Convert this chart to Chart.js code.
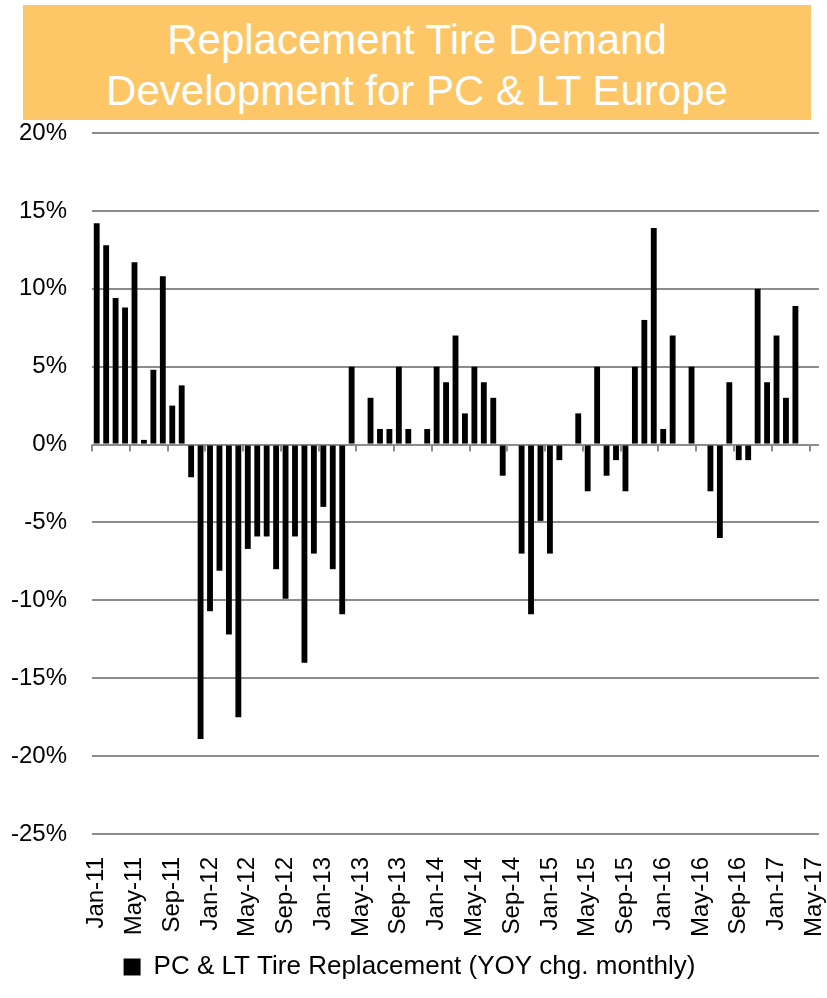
<!DOCTYPE html>
<html>
<head>
<meta charset="utf-8">
<script src="https://cdn.jsdelivr.net/npm/chart.js@4"></script>
<style>
    body { margin: 0; background: #fff; }
    .page { position: relative; width: 827px; height: 998px; }
    .titulo {
        position: absolute; left: 23px; top: 5px; width: 788px; height: 115px;
        box-sizing: border-box; padding-top: 9px;
        background: #FDC767; color: #fff; text-align: center;
        font-family: "Liberation Sans", Arial, sans-serif; font-size: 42px; line-height: 51px;
    }
    canvas { position: absolute; left: 0; top: 0; }
</style>
</head>
<body>
<div class="page">
    <canvas id="chart" width="827" height="998"></canvas>
    <div class="titulo">Replacement Tire Demand<br>Development for PC &amp; LT Europe</div>
</div>

<script>
const years = ['11', '12', '13', '14', '15', '16', '17'];
const monthNames = ['Jan', 'Feb', 'Mar', 'Apr', 'May', 'Jun', 'Jul', 'Aug', 'Sep', 'Oct', 'Nov', 'Dec'];

// Jan-11 ... May-17
const months = [];
years.forEach(y => monthNames.forEach(m => months.push(`${m}-${y}`)));
months.length = 77;

// YOY change, %
const values2011 = [14.2, 12.8, 9.4, 8.8, 11.7, 0.3, 4.8, 10.8, 2.5, 3.8, -2.1, -18.9];
const values2012 = [-10.7, -8.1, -12.2, -17.5, -6.7, -5.9, -5.9, -8.0, -9.9, -5.9, -14.0, -7.0];
const values2013 = [-4.0, -8.0, -10.9, 5.0, 0, 3.0, 1.0, 1.0, 5.0, 1.0, 0, 1.0];
const values2014 = [5.0, 4.0, 7.0, 2.0, 5.0, 4.0, 3.0, -2.0, 0, -7.0, -10.9, -4.9];
const values2015 = [-7.0, -1.0, 0, 2.0, -3.0, 5.0, -2.0, -1.0, -3.0, 5.0, 8.0, 13.9];
const values2016 = [1.0, 7.0, 0, 5.0, 0, -3.0, -6.0, 4.0, -1.0, -1.0, 10.0, 4.0];
const values2017 = [7.0, 3.0, 8.9, 0, 0];

const yTicks = [20, 15, 10, 5, 0, -5, -10, -15, -20, -25];

const seriesLabel = 'PC & LT Tire Replacement (YOY chg. monthly)';
const fuente = '"Liberation Sans", Arial, sans-serif';
const gris = '#8c8c8c';

const valores = [].concat(values2011, values2012, values2013, values2014, values2015, values2016, values2017);

// small tick marks hanging from the 0% line, every 4 months
const zeroTicks = {
    id: 'zeroTicks',
    afterDatasetsDraw(chart) {
        const x = chart.scales.x;
        const y = chart.scales.y;
        const ctx = chart.ctx;
        const half = x.width / months.length / 2;
        const y0 = y.getPixelForValue(0);
        ctx.save();
        ctx.strokeStyle = gris;
        ctx.lineWidth = 2;
        for (let i = 0; i < months.length; i += 4) {
            const px = Math.round(x.getPixelForValue(i) - half);
            ctx.beginPath();
            ctx.moveTo(px, y0);
            ctx.lineTo(px, y0 + 7);
            ctx.stroke();
        }
        ctx.restore();
    }
};

new Chart(document.getElementById('chart'), {
    type: 'bar',
    data: {
        labels: months,
        datasets: [{
            label: seriesLabel,
            data: valores,
            backgroundColor: '#000',
            borderWidth: 0,
            barPercentage: 0.62,
            categoryPercentage: 1
        }]
    },
    options: {
        responsive: false,
        animation: false,
        layout: { padding: { top: 133, right: 8, left: 0, bottom: 8 } },
        plugins: {
            tooltip: { enabled: false },
            legend: {
                position: 'bottom',
                labels: {
                    color: '#000',
                    font: { family: fuente, size: 26 },
                    boxWidth: 17,
                    boxHeight: 17,
                    padding: 10
                }
            }
        },
        scales: {
            x: {
                grid: { display: false, drawTicks: false },
                border: { display: false },
                ticks: {
                    autoSkip: false,
                    minRotation: 90,
                    maxRotation: 90,
                    padding: 23,
                    color: '#000',
                    font: { family: fuente, size: 24 },
                    callback: (v, i) => i % 4 === 0 ? months[i] : ''
                },
                afterFit: scale => {
                    scale.height = 110;
                    scale.paddingLeft = 0;
                    scale.paddingRight = 0;
                }
            },
            y: {
                min: -25,
                max: 20,
                afterBuildTicks: scale => { scale.ticks = yTicks.map(v => ({ value: v })); },
                grid: { color: gris, lineWidth: 2, drawTicks: false },
                border: { display: false },
                ticks: {
                    padding: 25,
                    color: '#000',
                    font: { family: fuente, size: 24 },
                    callback: v => v + '%'
                },
                afterFit: scale => { scale.width = 92; }
            }
        }
    },
    plugins: [zeroTicks]
});
</script>
</body>
</html>
